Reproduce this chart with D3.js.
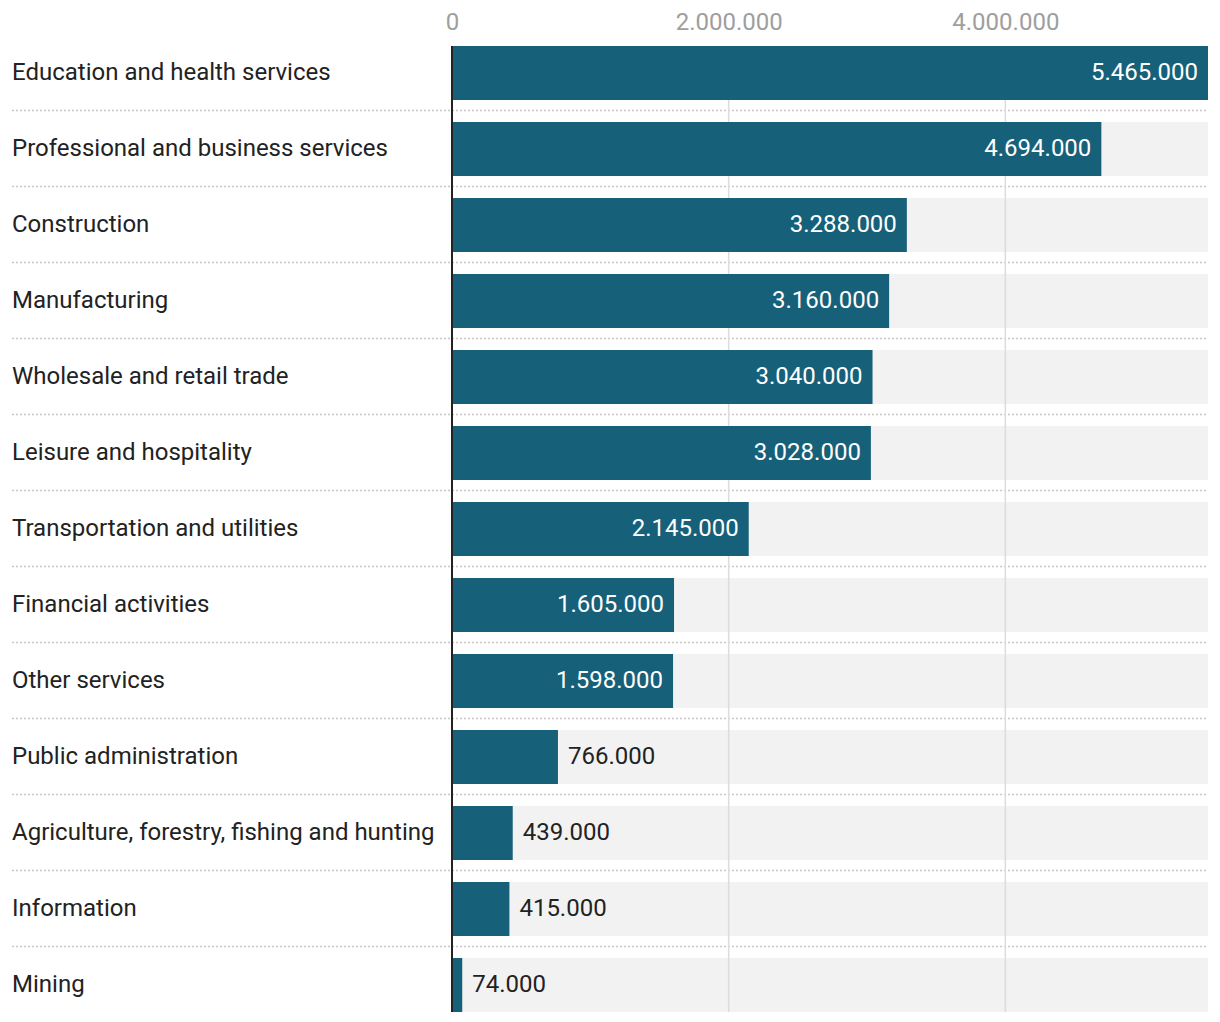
<!DOCTYPE html>
<html>
<head>
<meta charset="utf-8">
<script src="https://cdn.jsdelivr.net/npm/d3@7"></script>
<style>
  html, body { margin: 0; padding: 0; background: #fff; }
  svg { display: block; font-family: Roboto, "Noto Sans", sans-serif; }
</style>
</head>
<body>
<div id="chart"></div>
<script>
// Employment by industry
const categories = [
    'Education and health services',
    'Professional and business services',
    'Construction',
    'Manufacturing',
    'Wholesale and retail trade',
    'Leisure and hospitality',
    'Transportation and utilities',
    'Financial activities',
    'Other services',
    'Public administration',
    'Agriculture, forestry, fishing and hunting',
    'Information',
    'Mining'
];
const values = [5465000, 4694000, 3288000, 3160000, 3040000, 3028000, 2145000, 1605000, 1598000, 766000, 439000, 415000, 74000];
const tickValues = [0, 2000000, 4000000];

const width = 1220, height = 1022;
const plotLeft = 452, plotRight = 1208, plotTop = 46, step = 76, barH = 54;
const plotBottom = plotTop + step * (categories.length - 1) + barH;

const locale = d3.formatLocale({ decimal: ',', thousands: '.', grouping: [3], currency: ['', ''] });
const fmt = locale.format(',d');

const svg = d3.select('#chart')
    .append('svg')
    .attr('width', width)
    .attr('height', height);

const x = d3.scaleLinear()
    .domain([0, d3.max(values)])
    .range([plotLeft, plotRight]);

const y = d3.scaleBand()
    .domain(categories)
    .range([plotTop, plotBottom])
    .paddingInner((step - barH) / step)
    .paddingOuter(0);

// row separators (dotted)
svg.append('g')
    .selectAll('line')
    .data(categories.slice(0, -1))
    .enter().append('line')
    .attr('x1', 12)
    .attr('x2', plotRight)
    .attr('y1', d => Math.round(y(d) + y.bandwidth() + 10) + 0.5)
    .attr('y2', d => Math.round(y(d) + y.bandwidth() + 10) + 0.5)
    .attr('stroke', '#c8c8c8')
    .attr('stroke-width', 1.5)
    .attr('stroke-dasharray', '2,2');

// background tracks
svg.append('g')
    .selectAll('rect')
    .data(categories)
    .enter().append('rect')
    .attr('x', plotLeft)
    .attr('y', d => y(d))
    .attr('width', plotRight - plotLeft)
    .attr('height', y.bandwidth())
    .attr('fill', '#f2f2f2');

// gridlines
svg.append('g')
    .selectAll('line')
    .data(tickValues.slice(1))
    .enter().append('line')
    .attr('x1', d => x(d))
    .attr('x2', d => x(d))
    .attr('y1', plotTop)
    .attr('y2', plotBottom)
    .attr('stroke', '#dcdcdc')
    .attr('stroke-width', 1.5);

// axis labels
const axis = svg.append('g')
    .attr('transform', 'translate(0,30)')
    .call(d3.axisTop(x).tickValues(tickValues).tickFormat(fmt).tickSize(0).tickPadding(0));
axis.select('.domain').remove();
axis.selectAll('text')
    .attr('fill', '#9e9e9e')
    .style('font-size', '24px')
    .style('font-family', 'Roboto, sans-serif');

// bars
const rows = categories.map((c, i) => ({ cat: c, value: values[i] }));

svg.append('g')
    .selectAll('rect')
    .data(rows)
    .enter().append('rect')
    .attr('x', plotLeft)
    .attr('y', d => y(d.cat))
    .attr('width', d => x(d.value) - plotLeft)
    .attr('height', y.bandwidth())
    .attr('fill', '#176079');

// zero line
svg.append('line')
    .attr('x1', plotLeft)
    .attr('x2', plotLeft)
    .attr('y1', plotTop)
    .attr('y2', plotBottom)
    .attr('stroke', '#222')
    .attr('stroke-width', 2);

// category labels
svg.append('g')
    .selectAll('text')
    .data(rows)
    .enter().append('text')
    .attr('x', 12)
    .attr('y', d => y(d.cat) + y.bandwidth() / 2 - 1)
    .attr('dy', '0.35em')
    .style('font-size', '24px')
    .attr('fill', '#222')
    .text(d => d.cat);

// value labels
const vl = svg.append('g')
    .selectAll('text')
    .data(rows)
    .enter().append('text')
    .attr('y', d => y(d.cat) + y.bandwidth() / 2 - 1)
    .attr('dy', '0.35em')
    .style('font-size', '24px')
    .text(d => fmt(d.value));

vl.each(function(d) {
    const w = this.getComputedTextLength();
    const barW = x(d.value) - plotLeft;
    const inside = w + 40 < barW;
    d3.select(this)
        .attr('x', inside ? x(d.value) - 10 : x(d.value) + 10)
        .attr('text-anchor', inside ? 'end' : 'start')
        .attr('fill', inside ? '#fff' : '#222');
});
</script>
</body>
</html>
